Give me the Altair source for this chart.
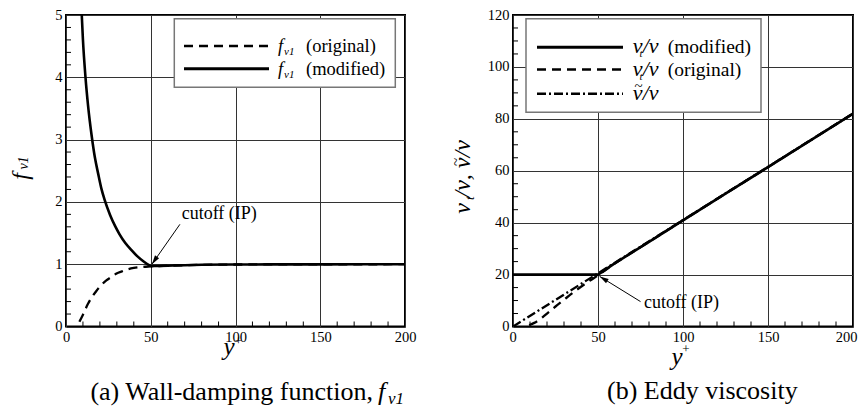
import altair as alt
import pandas as pd

SERIF = "'Liberation Serif', 'Times New Roman', Times, serif"
GRID = "#333333"

# ---------------- data ----------------
# panel (a): wall-damping function f_v1 versus y+
a_mod_x = [9.3, 10.0, 11.5, 13.0, 15.2, 17.0, 19.0, 21.0, 22.7, 26.0, 29.0, 31.6, 35.0, 38.5, 42.0, 46.0, 50.0]
a_mod_y = [5.00, 4.60, 4.00, 3.55, 3.05, 2.72, 2.45, 2.20, 2.04, 1.79, 1.61, 1.48, 1.34, 1.23, 1.13, 1.04, 0.970]
a_mod_tail_x = [50.0, 55, 60, 70, 80, 100, 125, 150, 175, 200]
a_mod_tail_y = [0.968, 0.972, 0.976, 0.984, 0.990, 0.995, 0.997, 0.998, 0.999, 1.000]
a_orig_x = [7.9, 10.0, 12.9, 15.0, 17.9, 20.0, 23.8, 26.5, 29.8, 33.0, 36.7, 40.0, 44.6, 48.6, 50,
            55, 60, 70, 80, 100, 125, 150, 175, 200]
a_orig_y = [0.075, 0.19, 0.36, 0.46, 0.57, 0.64, 0.74, 0.79, 0.85, 0.885, 0.92, 0.94, 0.955, 0.963, 0.965,
            0.970, 0.976, 0.984, 0.990, 0.995, 0.997, 0.998, 0.999, 1.0]

# panel (b): eddy viscosity versus y+
b_mod_x = [0, 50, 60, 80, 100, 125, 150, 175, 200]
b_mod_y = [20, 20, 24.4, 32.6, 40.9, 51.2, 61.4, 71.7, 82]
b_orig_x = [9.5, 12.5, 15, 17.5, 20, 25, 30, 35, 40, 45, 50, 60, 80, 100, 125, 150, 175, 200]
b_orig_y = [0.5, 1.4, 2.4, 3.6, 5.0, 7.7, 10.3, 12.9, 15.3, 17.6, 19.7, 24.3, 32.6, 40.9, 51.2, 61.4, 71.7, 82]
b_tilde_x = [0, 50, 100, 150, 200]
b_tilde_y = [0, 20.5, 41, 61.5, 82]

# axis ticks
x_ticks = [0, 50, 100, 150, 200]
x_minor = [10, 20, 30, 40, 60, 70, 80, 90, 110, 120, 130, 140, 160, 170, 180, 190]
a_y_ticks = [0, 1, 2, 3, 4, 5]
a_y_minor = [0.2, 0.4, 0.6, 0.8, 1.2, 1.4, 1.6, 1.8, 2.2, 2.4, 2.6, 2.8,
             3.2, 3.4, 3.6, 3.8, 4.2, 4.4, 4.6, 4.8]
b_y_ticks = [0, 20, 40, 60, 80, 100, 120]
b_y_minor = [5, 10, 15, 25, 30, 35, 45, 50, 55, 65, 70, 75, 85, 90, 95, 105, 110, 115]

# annotation (cutoff point)
a_cut = {"tx": 90.4, "ty": 1.8, "x": 67.2, "y": 1.64, "x2": 50.7, "y2": 1.0}
b_cut = {"tx": 77.0, "ty": 9.0, "x": 75.0, "y": 9.6, "x2": 51.0, "y2": 19.3}
cut_label = "cutoff (IP)"

# texts
a_leg = ["(original)", "(modified)"]
b_leg = ["(modified)", "(original)"]
cap_a = "(a) Wall-damping function,"
cap_b = "(b) Eddy viscosity"
NU = "\u03bd"

DASH = [9, 6]
DASHDOT = [9, 3, 2, 3]
ARROW = "M0,0L-0.5,1.8L0.5,1.8Z"

# plot-area origins on the page (used to place legend / caption texts)
TOP = 14.5
A0 = 65
B0 = 512


def dummy():
    return pd.DataFrame({"d": [0]})


def txt(o, px, py, s, size, italic=False, align="left", baseline="alphabetic", angle=None):
    kw = dict(align=align, baseline=baseline, font=SERIF, fontSize=size, color="black")
    if italic:
        kw["fontStyle"] = "italic"
    if angle is not None:
        kw["angle"] = angle
    return alt.Chart(dummy()).mark_text(**kw).encode(
        x=alt.value(px - o), y=alt.value(py - TOP), text=alt.value(s))


def axes(ydom, yticks, flush=False):
    xax = dict(values=x_ticks, grid=True, ticks=False, domain=False,
               labelFont=SERIF, labelFontSize=14.5, labelColor="black",
               labelPadding=4, gridColor=GRID, gridWidth=1, title=None,
               labelFlush=flush, labelOverlap=False)
    if flush:
        xax["labelFlushOffset"] = 4
    X = alt.X("x:Q", scale=alt.Scale(domain=[0, 200], nice=False, zero=False),
              axis=alt.Axis(**xax))
    Y = alt.Y("y:Q", scale=alt.Scale(domain=ydom, nice=False, zero=False),
              axis=alt.Axis(values=yticks, grid=True, ticks=False, domain=False,
                            labelFont=SERIF, labelFontSize=14.5, labelColor="black",
                            labelPadding=4, gridColor=GRID, gridWidth=1, title=None,
                            labelFlush=False, labelOverlap=False))
    return X, Y


def series(xs, ys, X, Y, dash=None, width=2.5, interp="linear"):
    kw = dict(color="black", strokeWidth=width, clip=True, interpolate=interp)
    if dash:
        kw["strokeDash"] = dash
    return alt.Chart(pd.DataFrame({"x": xs, "y": ys})).mark_line(**kw).encode(x=X, y=Y)


def minor(X, Y, H, xm, ym):
    mx = alt.Chart(pd.DataFrame({"x": xm})).mark_rule(color="black", strokeWidth=1).encode(
        x=X, y=alt.value(H), y2=alt.value(H - 5))
    my = alt.Chart(pd.DataFrame({"y": ym})).mark_rule(color="black", strokeWidth=1).encode(
        y=Y, x=alt.value(0), x2=alt.value(5))
    return [mx, my]


def cutoff(c, X, Y, angle, align):
    df = pd.DataFrame([c])
    rule = alt.Chart(df).mark_rule(color="black", strokeWidth=1).encode(
        x=X, y=Y, x2="x2:Q", y2="y2:Q")
    head = alt.Chart(pd.DataFrame({"x": [c["x2"]], "y": [c["y2"]]})).mark_point(
        shape=ARROW, filled=True, size=100, angle=angle, color="black", opacity=1).encode(x=X, y=Y)
    lab = alt.Chart(pd.DataFrame({"x": [c["tx"]], "y": [c["ty"]], "t": [cut_label]})).mark_text(
        align=align, baseline="middle", font=SERIF, fontSize=18, color="black").encode(
        x=X, y=Y, text="t:N")
    return [rule, head, lab]


def legline(o, x1, x2, y, dash=None, width=3):
    kw = dict(color="black", strokeWidth=width)
    if dash:
        kw["strokeDash"] = dash
    return alt.Chart(dummy()).mark_rule(**kw).encode(
        x=alt.value(x1 - o), x2=alt.value(x2 - o), y=alt.value(y - TOP))


def legbox(o, x1, x2, y1, y2):
    return alt.Chart(dummy()).mark_rect(fill="white", stroke="#777777", strokeWidth=1.5).encode(
        x=alt.value(x1 - o), x2=alt.value(x2 - o), y=alt.value(y1 - TOP), y2=alt.value(y2 - TOP))


# ---------------- panel (a) ----------------
WA, HA = 339, 311.5
XA, YA = axes([0, 5], a_y_ticks)
o = A0
layers_a = minor(XA, YA, HA, x_minor, a_y_minor) + [
    series(a_orig_x, a_orig_y, XA, YA, dash=DASH, width=2.3, interp="monotone"),
    series(a_mod_x, a_mod_y, XA, YA, width=2.6, interp="monotone"),
    series(a_mod_tail_x, a_mod_tail_y, XA, YA, width=2.6, interp="monotone"),
] + cutoff(a_cut, XA, YA, 214.5, "center") + [
    legbox(o, 173.3, 394.3, 18.3, 86.7),
    legline(o, 183, 268, 45.5, dash=DASH, width=2.5),
    legline(o, 183, 268, 68.3, width=3),
    txt(o, 277, 51.3, "f", 18.5, italic=True), txt(o, 283, 54.8, "v1", 11, italic=True),
    txt(o, 305, 51.3, a_leg[0], 18.5),
    txt(o, 277, 74, "f", 18.5, italic=True), txt(o, 283, 77.5, "v1", 11, italic=True),
    txt(o, 305, 74, a_leg[1], 18.5),
    # y axis title
    txt(o, 20, 176, "f", 24, italic=True, align="center", baseline="middle", angle=270),
    txt(o, 23, 162.5, "v1", 14, italic=True, align="center", baseline="middle", angle=270),
    # x axis title
    txt(o, 228, 354, "y", 25, italic=True, align="center"),
    txt(o, 237.5, 340, "+", 13, align="center", baseline="middle"),
    # caption
    txt(o, 372, 399.5, cap_a, 26, align="right"),
    txt(o, 377, 399.5, "f", 26, italic=True),
    txt(o, 387, 403.5, "v1", 17, italic=True),
]
panel_a = alt.layer(*layers_a).properties(width=WA, height=HA)

# ---------------- panel (b) ----------------
WB, HB = 340, 311.5
XB, YB = axes([0, 120], b_y_ticks, flush=True)
o = B0
layers_b = minor(XB, YB, HB, x_minor, b_y_minor) + [
    series(b_tilde_x, b_tilde_y, XB, YB, dash=DASHDOT, width=2.3),
    series(b_orig_x, b_orig_y, XB, YB, dash=DASH, width=2.3, interp="monotone"),
    series(b_mod_x, b_mod_y, XB, YB, width=2.6),
] + cutoff(b_cut, XB, YB, 301.6, "left") + [
    legbox(o, 525, 760, 18.3, 111.7),
    legline(o, 536, 622, 46.7, width=3),
    legline(o, 536, 622, 69, dash=DASH, width=2.5),
    legline(o, 536, 622, 93.3, dash=DASHDOT, width=2.5),
    txt(o, 631.7, 52.5, NU, 22, italic=True), txt(o, 638.5, 56.5, "t", 11, italic=True),
    txt(o, 641.7, 52.5, "/" + NU, 22, italic=True), txt(o, 666.7, 52.5, b_leg[0], 19.5),
    txt(o, 631.7, 75, NU, 22, italic=True), txt(o, 638.5, 79, "t", 11, italic=True),
    txt(o, 641.7, 75, "/" + NU, 22, italic=True), txt(o, 666.7, 75, b_leg[1], 19.5),
    txt(o, 631.7, 99, NU, 22, italic=True),
    txt(o, 637.5, 85, "~", 15, align="center", baseline="middle"),
    txt(o, 641.7, 99, "/" + NU, 22, italic=True),
    # y axis title (rotated pieces, reading upward)
    txt(o, 469, 213.3, NU, 24, italic=True, angle=270),
    txt(o, 473, 199.5, "t", 13, italic=True, angle=270),
    txt(o, 469, 197, "/" + NU + ", " + NU + "/" + NU, 24, italic=True, angle=270),
    txt(o, 455, 161.5, "~", 15, align="center", baseline="middle", angle=270),
    # x axis title
    txt(o, 676, 364, "y", 25, italic=True, align="center"),
    txt(o, 685, 348.5, "+", 13, align="center", baseline="middle"),
    # caption
    txt(o, 606, 398.5, cap_b, 26),
]
panel_b = alt.layer(*layers_b).properties(width=WB, height=HB)

chart = alt.hconcat(panel_a, panel_b, spacing=108, bounds="flush").properties(
    padding={"left": 0, "top": -2, "right": 0, "bottom": 0},
    background="white",
).configure_view(stroke="black", strokeWidth=2)

chart.save("out.html", embed_options={"renderer": "svg", "actions": False})
